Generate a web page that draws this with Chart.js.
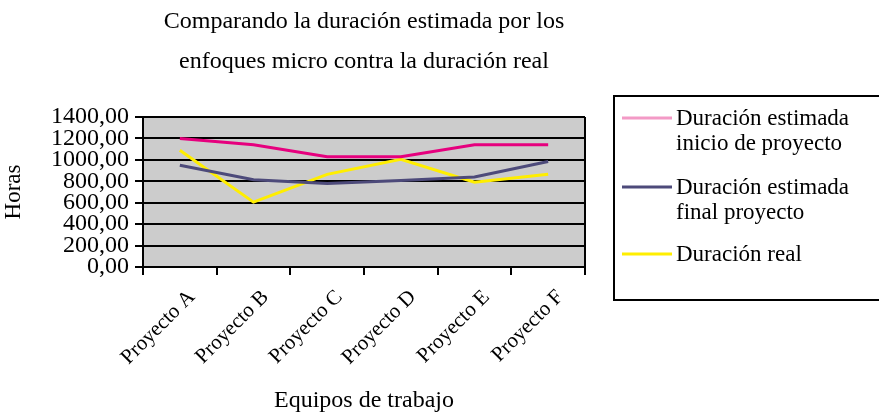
<!DOCTYPE html>
<html>
<head>
<meta charset="utf-8">
<script src="https://cdn.jsdelivr.net/npm/chart.js@4/dist/chart.umd.min.js"></script>
<style>
	html, body { margin: 0; padding: 0; background: #fff; }
	#wrap { position: relative; width: 879px; height: 415px; }
</style>
</head>
<body>
<div id="wrap"><canvas id="duracion"></canvas></div>
<script>
	// Datos
	var categorias = ['Proyecto A', 'Proyecto B', 'Proyecto C', 'Proyecto D', 'Proyecto E', 'Proyecto F'];
	var inicioProyecto = [1200, 1140, 1030, 1030, 1140, 1140];
	var finalProyecto = [950, 815, 780, 808, 840, 985];
	var duracionReal = [1090, 605, 865, 1005, 792, 865];
	var tituloLineas = ['Comparando la duración estimada por los', 'enfoques micro contra la duración real'];
	var nombresSeries = [
		['Duración estimada', 'inicio de proyecto'],
		['Duración estimada', 'final proyecto'],
		['Duración real']
	];
	var coloresLeyenda = ['#F39AC6', '#4D4A7A', '#FFEE00'];

	var serif = "'Liberation Serif', 'DejaVu Serif', serif";

	// Fondo gris del area de trazado + borde derecho
	var plotBg = {
		id: 'plotBg',
		beforeDraw: function (chart) {
			var a = chart.chartArea, ctx = chart.ctx;
			ctx.save();
			ctx.fillStyle = '#CCCCCC';
			ctx.fillRect(a.left, a.top, a.right - a.left, a.bottom - a.top);
			ctx.restore();
		},
		afterDraw: function (chart) {
			var a = chart.chartArea, ctx = chart.ctx;
			ctx.save();
			ctx.strokeStyle = '#000';
			ctx.lineWidth = 2;
			ctx.beginPath();
			ctx.moveTo(a.right, a.top);
			ctx.lineTo(a.right, a.bottom);
			ctx.stroke();
			ctx.restore();
		}
	};

	// Titulo centrado sobre el area de trazado y leyenda con recuadro
	var tituloLeyenda = {
		id: 'tituloLeyenda',
		afterDraw: function (chart) {
			var a = chart.chartArea, ctx = chart.ctx;
			var cx = (a.left + a.right) / 2;
			ctx.save();
			ctx.fillStyle = '#000';
			ctx.font = '24px ' + serif;
			ctx.textAlign = 'center';
			ctx.textBaseline = 'alphabetic';
			ctx.fillText(tituloLineas[0], cx, 28);
			ctx.fillText(tituloLineas[1], cx, 68);

			// leyenda
			ctx.strokeStyle = '#000';
			ctx.lineWidth = 2;
			ctx.strokeRect(614, 96, 280, 204);
			var yLinea = [118, 187, 254];
			ctx.textAlign = 'left';
			ctx.font = '23px ' + serif;
			chart.data.datasets.forEach(function (ds, i) {
				ctx.strokeStyle = coloresLeyenda[i];
				ctx.lineWidth = 3;
				ctx.beginPath();
				ctx.moveTo(622, yLinea[i]);
				ctx.lineTo(672, yLinea[i]);
				ctx.stroke();
				ctx.fillStyle = '#000';
				nombresSeries[i].forEach(function (t, j) {
					ctx.fillText(t, 676, yLinea[i] + 7 + j * 25);
				});
			});
			ctx.restore();
		}
	};

	var ctx1 = document.getElementById('duracion').getContext('2d');
	var myChart = new Chart(ctx1, {
		type: 'line',
		data: {
			labels: categorias,
			datasets: [
				{
					label: nombresSeries[0].join(' '),
					data: inicioProyecto,
					borderColor: '#E6007E',
					borderWidth: 3,
					pointRadius: 0,
					tension: 0
				},
				{
					label: nombresSeries[1].join(' '),
					data: finalProyecto,
					borderColor: '#4D4A7A',
					borderWidth: 3,
					pointRadius: 0,
					tension: 0
				},
				{
					label: nombresSeries[2][0],
					data: duracionReal,
					borderColor: '#FFEE00',
					borderWidth: 3,
					pointRadius: 0,
					tension: 0
				}
			]
		},
		options: {
			responsive: true,
			maintainAspectRatio: false,
			animation: false,
			layout: { padding: { left: 0, right: 294, top: 117, bottom: 0 } },
			plugins: {
				legend: { display: false },
				title: { display: false },
				tooltip: { enabled: false }
			},
			scales: {
				x: {
					offset: true,
					afterFit: function (s) { s.height = 148; },
					grid: {
						offset: true,
						drawOnChartArea: false,
						color: '#000',
						lineWidth: 2,
						tickLength: 8
					},
					border: { color: '#000', width: 2 },
					ticks: {
						color: '#000',
						font: { family: serif, size: 21 },
						minRotation: 45,
						maxRotation: 45,
						padding: 10,
						labelOffset: 12
					},
					title: {
						display: true,
						text: 'Equipos de trabajo',
						color: '#000',
						font: { family: serif, size: 24 },
						padding: { top: 12, bottom: 0 }
					}
				},
				y: {
					min: 0,
					max: 1400,
					afterFit: function (s) { s.width = 143; },
					grid: {
						color: '#000',
						lineWidth: 2,
						tickLength: 8
					},
					border: { color: '#000', width: 2 },
					ticks: {
						stepSize: 200,
						autoSkip: false,
						color: '#000',
						font: { family: serif, size: 24, lineHeight: 1 },
						padding: 6,
						callback: function (v) { return v.toFixed(2).replace('.', ','); }
					},
					title: {
						display: true,
						text: 'Horas',
						color: '#000',
						font: { family: serif, size: 23 },
						padding: { top: 0, bottom: 0 }
					}
				}
			}
		},
		plugins: [plotBg, tituloLeyenda]
	});
</script>
</body>
</html>
